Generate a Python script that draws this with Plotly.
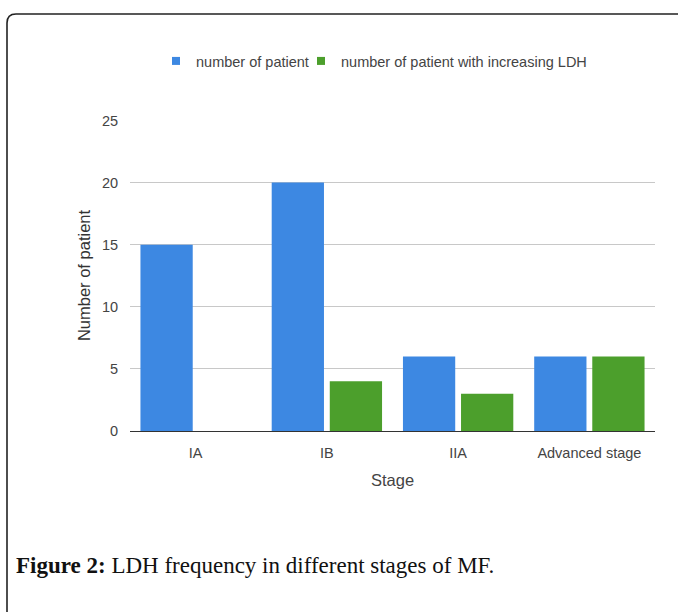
import plotly.graph_objects as go

stages = ["IA", "IB", "IIA", "Advanced stage"]
patients = [15, 20, 6, 6]
patients_ldh = [0, 4, 3, 6]
y_ticks = [0, 5, 10, 15, 20, 25]

W, H = 678, 612
ML, MR, MT, MB = 130, 23, 120, 181
PW, PH = W - ML - MR, H - MT - MB

def px(x):
    return (x - ML) / PW

def py(y):
    return (H - MB - y) / PH

BLUE = "#3d88e2"
GREEN = "#4c9f2c"

fig = go.Figure()
fig.add_trace(go.Bar(x=stages, y=patients, name="number of patient",
                     marker=dict(color=BLUE, line=dict(width=0)), showlegend=False))
fig.add_trace(go.Bar(x=stages, y=patients_ldh, name="number of patient with increasing LDH",
                     marker=dict(color=GREEN, line=dict(width=0)), showlegend=False))
# compact legend entries with small square symbols
fig.add_trace(go.Scatter(x=[None], y=[None], mode="markers", name="number of patient",
                         marker=dict(symbol="square", size=8, color=BLUE), legend="legend"))
fig.add_trace(go.Scatter(x=[None], y=[None], mode="markers",
                         name="number of patient with increasing LDH",
                         marker=dict(symbol="square", size=8, color=GREEN), legend="legend2"))

# rounded frame (top-left corner visible)
r = 9
path = (f"M {px(7)},{py(640)} L {px(7)},{py(14 + r)} "
        f"Q {px(7)},{py(14)} {px(7 + r)},{py(14)} L {px(700)},{py(14)}")
fig.add_shape(type="path", path=path, xref="paper", yref="paper",
              line=dict(color="#222222", width=1.6), layer="above")

fig.add_annotation(x=px(14), y=py(565), xref="paper", yref="paper",
                   xanchor="left", yanchor="middle", showarrow=False,
                   text="<b>Figure 2:</b> LDH frequency in different stages of MF.",
                   font=dict(family="Liberation Serif", size=23, color="#111111"))

legend_style = dict(orientation="h", yanchor="middle", y=py(61), xanchor="left",
                    font=dict(size=14.5, color="#444444"), itemwidth=30,
                    bgcolor="rgba(0,0,0,0)")

fig.update_layout(
    width=W, height=H,
    margin=dict(l=ML, r=MR, t=MT, b=MB, autoexpand=False),
    paper_bgcolor="white", plot_bgcolor="white",
    font=dict(family="Liberation Sans, Arial", size=14.5, color="#444444"),
    barmode="group", bargap=0.115, bargroupgap=0.10,
    showlegend=True,
    legend=dict(x=px(156), **legend_style),
    legend2=dict(x=px(301), **legend_style),
    xaxis=dict(title=dict(text="Stage", font=dict(size=16.5, color="#444444"), standoff=14),
               showgrid=False, showline=True, linecolor="#333333", linewidth=1,
               ticks="outside", ticklen=9, tickcolor="rgba(0,0,0,0)",
               tickfont=dict(size=14.5, color="#444444")),
    yaxis=dict(title=dict(text="Number of patient", font=dict(size=16.5, color="#333333"), standoff=7),
               range=[0, 25.04], tickvals=y_ticks, showgrid=True, gridcolor="#c8c8c8",
               gridwidth=1, zeroline=False, showline=False, ticks="outside",
               ticklen=8, tickcolor="rgba(0,0,0,0)", tickfont=dict(size=14.5, color="#444444")),
)

fig.write_html("out.html", config={"displayModeBar": False},
               post_script="document.body.style.margin='0';document.body.style.overflow='hidden';")
